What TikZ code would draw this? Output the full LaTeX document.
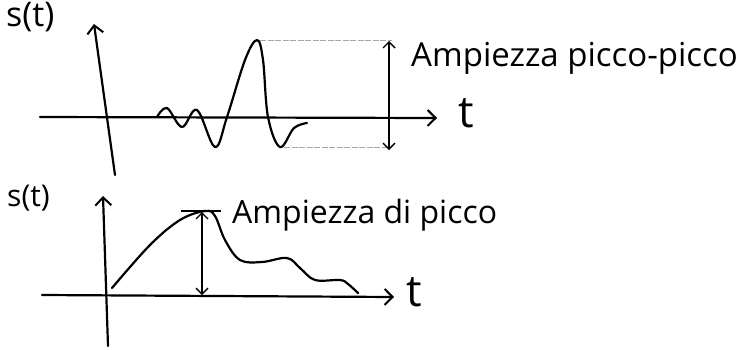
\documentclass[tikz,border=0pt]{standalone}
\usepackage{fontspec}
\setmainfont{Open Sans}
\usetikzlibrary{arrows.meta}
\tikzset{
  axis/.style={line width=2.2pt, -{Straight Barb[length=8pt,width=16pt,line width=2pt]}, line cap=round},
  sig/.style={line width=2.2pt, line cap=round, line join=round},
  guide/.style={line width=0.7pt, gray!70, dash pattern=on 6pt off 1.5pt},
  meas/.style={line width=1.4pt, {Straight Barb[length=6pt,width=12pt,line width=1.4pt]}-{Straight Barb[length=6pt,width=12pt,line width=1.4pt]}},
  lbl/.style={inner sep=0pt, anchor=west},
}
\begin{document}
\begin{tikzpicture}[x=1pt,y=-1pt]
\useasboundingbox (0,0) rectangle (749,349);
% ---------- top plot ----------
\coordinate (tyb) at (115,175);
\coordinate (tyt) at (94,24);
\coordinate (txl) at (40,117);
\coordinate (txr) at (437,118);
\draw[axis] (tyb) -- (tyt);
\draw[axis] (txl) -- (txr);
\node[lbl, font=\fontsize{34}{34}\selectfont] (s1) at (6,17) {s(t)};
\node[lbl, font=\fontsize{44}{44}\selectfont] (t1) at (458,113) {t};
\draw[sig] plot[smooth, tension=0.6] coordinates {(157,117) (167,108) (182,127) (197,110) (215,147) (227,117) (245,60) (257,40) (263,60) (268,117) (280,147) (294,128) (307,123)};
\coordinate (pk) at (260,40);
\coordinate (tr) at (284,147);
\coordinate (pkR) at (392,40);
\coordinate (trR) at (392,147);
\draw[guide] (pk) -- (pkR);
\draw[guide] (tr) -- (trR);
\coordinate (m1t) at (389,41);
\coordinate (m1b) at (389,150);
\draw[meas] (m1b) -- (m1t);
\node[lbl, font=\fontsize{33}{33}\selectfont] (a1) at (411,58) {Ampiezza picco-picco};
% ---------- bottom plot ----------
\coordinate (byb) at (108,346);
\coordinate (byt) at (103,196);
\coordinate (bxl) at (42,295);
\coordinate (bxr) at (394,297);
\draw[axis] (byb) -- (byt);
\draw[axis] (bxl) -- (bxr);
\node[lbl, font=\fontsize{30}{30}\selectfont] (s2) at (7,198) {s(t)};
\node[lbl, font=\fontsize{44}{44}\selectfont] (t2) at (406,292) {t};
\draw[sig] plot[smooth, tension=0.6] coordinates {(112,288) (150,245) (180,220) (205,211) (215,216) (225,240) (240,260) (262,262) (287,258) (300,268) (315,280) (340,280) (348,284) (358,293)};
\coordinate (tk1) at (181,211);
\coordinate (tk2) at (221,211);
\draw[line width=1.4pt] (tk1) -- (tk2);
\coordinate (m2t) at (202,212);
\coordinate (m2b) at (202,295);
\draw[meas] (m2b) -- (m2t);
\node[lbl, font=\fontsize{32}{32}\selectfont] (a2) at (232,215) {Ampiezza di picco};
\end{tikzpicture}
\end{document}
